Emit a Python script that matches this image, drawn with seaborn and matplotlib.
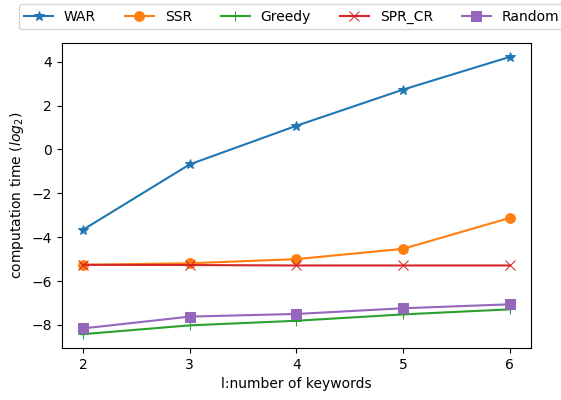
import matplotlib
matplotlib.use("Agg")
import matplotlib.pyplot as plt
import seaborn as sns
import pandas as pd

# number of query keywords
keywords = [2, 3, 4, 5, 6]

# computation time, log2 scale
war = [-3.66, -0.68, 1.08, 2.73, 4.22]
ssr = [-5.26, -5.19, -5.0, -4.53, -3.12]
greedy = [-8.42, -8.02, -7.81, -7.52, -7.29]
spr_cr = [-5.26, -5.27, -5.29, -5.29, -5.29]
rand = [-8.16, -7.62, -7.5, -7.24, -7.06]

series = ["WAR", "SSR", "Greedy", "SPR_CR", "Random"]
values = [war, ssr, greedy, spr_cr, rand]
markers = ["*", "o", "+", "x", "s"]
colors = ["#1f77b4", "#ff7f0e", "#2ca02c", "#d62728", "#9467bd"]

fig = plt.figure(figsize=(5.61, 4.0), dpi=100)
ax = fig.add_axes([0.110, 0.13, 0.837, 0.7625])

for name, vals, mk, col in zip(series, values, markers, colors):
    df = pd.DataFrame({"l": keywords, "t": vals})
    sns.lineplot(data=df, x="l", y="t", ax=ax, label=name, color=col,
                 marker=mk, markersize=7, markeredgecolor=col, linewidth=1.5)

ax.set_xticks(keywords)
ax.set_xlabel("l:number of keywords")
ax.set_ylabel("computation time ($log_2$)")
ax.legend(loc="upper center", bbox_to_anchor=(0.49, 1.15), ncol=5,
          frameon=True, handlelength=2.05, columnspacing=2.1)

fig.savefig("out.png", dpi=100)
